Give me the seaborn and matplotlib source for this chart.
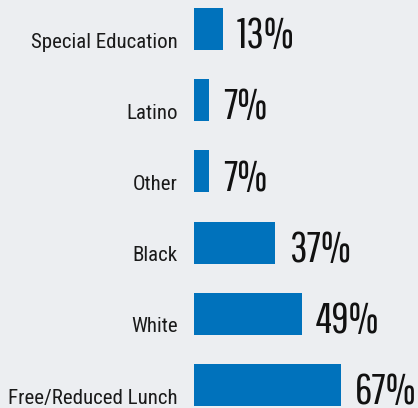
import matplotlib
matplotlib.use("Agg")
import matplotlib.pyplot as plt
import seaborn as sns
import pandas as pd

categories = ["Special Education", "Latino", "Other", "Black", "White", "Free/Reduced Lunch"]
values = [13, 7, 7, 37, 49, 67]
value_labels = ["13%", "7%", "7%", "37%", "49%", "67%"]

BG = "#eceef1"
BAR = "#0072bc"

sns.set_theme(style="white")
plt.rcParams["font.family"] = ["Roboto Condensed", "DejaVu Sans"]

df = pd.DataFrame({"category": categories, "value": values})

W, H = 418, 408
fig = plt.figure(figsize=(W / 100, H / 100), dpi=100, facecolor=BG)
ax = fig.add_axes([194 / W, 0, 220 / W, 1])
ax.set_facecolor(BG)

sns.barplot(data=df, x="value", y="category", order=categories, orient="h",
            color=BAR, saturation=1, width=0.59, linewidth=0, ax=ax)

ax.set_xlim(0, 100)
ax.set_ylim(5 + 23 / 71.2, -29 / 71.2)

for i, (cat, v, lab) in enumerate(zip(categories, values, value_labels)):
    ax.text(-7.3, i + 0.26, cat, ha="right", va="baseline", fontsize=15,
            family=["Roboto Condensed", "DejaVu Sans"],
            color="#1a1a1a", clip_on=False)
    ax.text(v + 6.2, i + 0.27, lab, ha="left", va="baseline", fontsize=31,
            family=["Pathway Gothic One", "DejaVu Sans"],
            color="#111111", clip_on=False)

ax.set_xlabel("")
ax.set_ylabel("")
ax.set_xticks([])
ax.set_yticks([])
for s in ax.spines.values():
    s.set_visible(False)

fig.savefig("out.png", dpi=100, facecolor=BG)
